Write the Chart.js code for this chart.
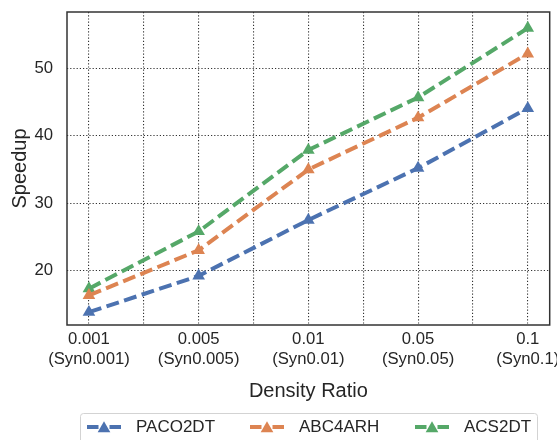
<!DOCTYPE html>
<html><head><meta charset="utf-8">
<script src="https://cdn.jsdelivr.net/npm/chart.js@4"></script>
<style>html,body{margin:0;padding:0;background:#fff;}</style>
</head><body>
<canvas id="c" width="557" height="440" style="display:block;width:557px;height:440px"></canvas>
<script>
const categories = ['0.001','0.005','0.01','0.05','0.1'];
const subLabels = ['(Syn0.001)','(Syn0.005)','(Syn0.01)','(Syn0.05)','(Syn0.1)'];
const yTicks = [20,30,40,50];
const seriesNames = ['PACO2DT','ABC4ARH','ACS2DT'];
const paco2dt = [13.8,19.2,27.5,35.2,44.1];
const abc4arh = [16.3,23.0,35.0,42.7,52.2];
const acs2dt = [17.3,25.8,37.9,45.7,56.0];
const colors = ['#4C72B0','#DD8452','#55A868'];

const FONT = "'Liberation Sans', Arial, sans-serif";
const TEXT = '#262626';
const allSeries = [paco2dt, abc4arh, acs2dt];

const datasets = allSeries.map((vals, i) => ({
  label: seriesNames[i],
  data: vals.map((v, j) => ({x: j, y: v})),
  borderColor: colors[i],
  backgroundColor: colors[i],
  borderWidth: 4,
  borderDash: [13, 5.5],
  borderCapStyle: 'butt',
  pointStyle: 'triangle',
  pointRadius: 7.3,
  pointBorderWidth: 0,
  pointBackgroundColor: colors[i],
  pointBorderColor: colors[i],
  tension: 0,
  fill: false
}));

function drawTri(ctx, x, y, r, color) {
  ctx.beginPath();
  ctx.moveTo(x, y - r);
  ctx.lineTo(x + r * Math.sin(2*Math.PI/3), y - r * Math.cos(2*Math.PI/3));
  ctx.lineTo(x + r * Math.sin(4*Math.PI/3), y - r * Math.cos(4*Math.PI/3));
  ctx.closePath();
  ctx.fillStyle = color;
  ctx.fill();
}

const framePlugin = {
  id: 'frame',
  afterDraw(chart) {
    const {ctx, chartArea: a} = chart;
    ctx.save();
    ctx.strokeStyle = '#333';
    ctx.lineWidth = 1.5;
    ctx.setLineDash([]);
    ctx.strokeRect(a.left, a.top, a.right - a.left, a.bottom - a.top);
    ctx.restore();
  }
};

const legendPlugin = {
  id: 'customLegend',
  afterDraw(chart) {
    const ctx = chart.ctx;
    ctx.save();
    // box
    const bx = 80.5, by = 413.5, bw = 457, bh = 34, rr = 3;
    ctx.beginPath();
    ctx.moveTo(bx + rr, by);
    ctx.lineTo(bx + bw - rr, by);
    ctx.quadraticCurveTo(bx + bw, by, bx + bw, by + rr);
    ctx.lineTo(bx + bw, by + bh);
    ctx.lineTo(bx, by + bh);
    ctx.lineTo(bx, by + rr);
    ctx.quadraticCurveTo(bx, by, bx + rr, by);
    ctx.fillStyle = 'rgba(255,255,255,0.8)';
    ctx.fill();
    ctx.strokeStyle = '#d3d3d3';
    ctx.lineWidth = 1;
    ctx.stroke();
    const starts = [87, 250, 415];
    const y = 427;
    chart.data.datasets.forEach((ds, i) => {
      const x0 = starts[i];
      ctx.strokeStyle = ds.borderColor;
      ctx.lineWidth = 4;
      ctx.lineCap = 'butt';
      ctx.setLineDash([]);
      ctx.beginPath(); ctx.moveTo(x0, y); ctx.lineTo(x0 + 11.5, y); ctx.stroke();
      ctx.beginPath(); ctx.moveTo(x0 + 22.5, y); ctx.lineTo(x0 + 34, y); ctx.stroke();
      drawTri(ctx, x0 + 17, y + 1.5, 7.3, ds.borderColor);
      ctx.fillStyle = TEXT;
      ctx.font = '17px ' + FONT;
      ctx.textBaseline = 'middle';
      ctx.textAlign = 'left';
      ctx.fillText(ds.label, x0 + 49, y);
    });
    ctx.restore();
  }
};

new Chart(document.getElementById('c'), {
  type: 'line',
  data: { datasets },
  plugins: [framePlugin, legendPlugin],
  options: {
    responsive: false,
    animation: false,
    events: [],
    layout: { padding: { left: 0, right: 7, top: 12, bottom: 0 } },
    plugins: { legend: { display: false }, tooltip: { enabled: false } },
    scales: {
      x: {
        type: 'linear',
        min: -0.2, max: 4.2,
        afterBuildTicks: (s) => { s.ticks = [0,0.5,1,1.5,2,2.5,3,3.5,4].map(v => ({value: v})); },
        afterFit: (s) => { s.height = 115; s.paddingLeft = 0; s.paddingRight = 0; },
        ticks: {
          autoSkip: false, maxRotation: 0, minRotation: 0,
          padding: 4,
          color: TEXT,
          font: { family: FONT, size: 16.7, lineHeight: 1.2 },
          callback: (v) => Number.isInteger(v) ? [categories[v], subLabels[v]] : ''
        },
        grid: { color: '#333', lineWidth: 1.1, drawTicks: false },
        border: { display: false, dash: [1.2, 2] },
        title: {
          display: true, text: 'Density Ratio', color: TEXT,
          font: { family: FONT, size: 20, lineHeight: 1.2 },
          padding: { top: 0, bottom: 36.5 }
        }
      },
      y: {
        type: 'linear',
        min: 11.9, max: 58.4,
        afterBuildTicks: (s) => { s.ticks = yTicks.map(v => ({value: v})); },
        afterFit: (s) => { s.width = 67; s.paddingTop = 0; s.paddingBottom = 0; },
        ticks: {
          padding: 14,
          color: TEXT,
          font: { family: FONT, size: 16.7, lineHeight: 1.2 }
        },
        grid: { color: '#333', lineWidth: 1.1, drawTicks: false },
        border: { display: false, dash: [1.2, 2] },
        title: {
          display: true, text: 'Speedup', color: TEXT,
          font: { family: FONT, size: 20, lineHeight: 1.2 },
          padding: { top: 8, bottom: 0 }
        }
      }
    }
  }
});
</script>
</body></html>
